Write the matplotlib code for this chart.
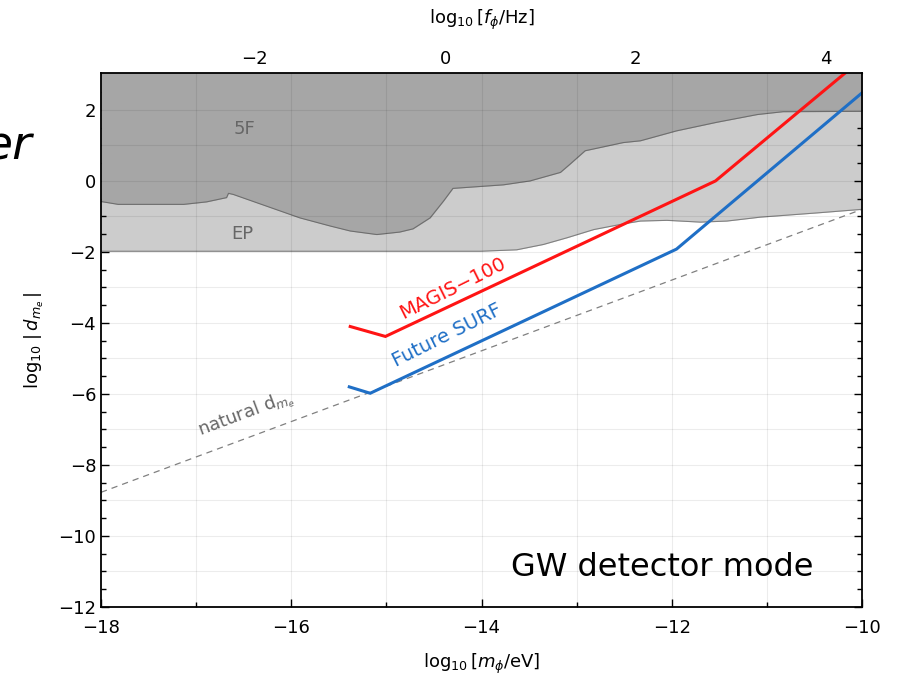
import numpy as np
import matplotlib
matplotlib.use("Agg")
import matplotlib.pyplot as plt
from matplotlib.ticker import MultipleLocator, FixedLocator

plt.rcParams['font.family'] = ['DejaVu Sans']
plt.rcParams['mathtext.fontset'] = 'dejavusans'

# ---- data ----
dark_x = [-18, -17.82, -17.13, -16.89, -16.68, -16.66, -16.61, -15.91, -15.59, -15.38,
          -15.10, -14.86, -14.72, -14.54, -14.40, -14.30, -13.77, -13.49, -13.17, -13.07,
          -12.91, -12.51, -12.33, -11.95, -11.53, -11.10, -10.83, -10.0]
dark_y = [-0.58, -0.66, -0.66, -0.59, -0.47, -0.35, -0.38, -1.04, -1.27, -1.41,
          -1.51, -1.44, -1.35, -1.04, -0.57, -0.21, -0.11, 0.0, 0.24, 0.47,
          0.85, 1.08, 1.13, 1.41, 1.65, 1.87, 1.95, 1.96]

light_x = [-18, -14.33, -14.01, -13.63, -13.35, -13.10, -12.82, -12.51, -12.33, -12.05,
           -11.70, -11.42, -11.07, -10.47, -10.0]
light_y = [-1.98, -1.98, -1.98, -1.94, -1.79, -1.60, -1.37, -1.21, -1.13, -1.11,
           -1.16, -1.13, -1.02, -0.90, -0.80]

magis_x = [-15.38, -15.01, -11.54, -10.15]
magis_y = [-4.10, -4.38, 0.0, 3.10]

surf_x = [-15.39, -15.17, -11.95, -10.0]
surf_y = [-5.80, -5.98, -1.92, 2.48]

natural_x = [-18, -10]
natural_y = [-8.77, -0.80]

freq_ticks = [-2, 0, 2, 4]
freq_minor = [-3, -1, 1, 3]

xlim = (-18, -10)
ylim = (-12, 3.04)
f_offset = 14.3834  # log10(eV/h in Hz)

# ---- figure ----
fig = plt.figure(figsize=(8.99, 6.8), dpi=100)
ax = fig.add_axes([101/899, 1-607/680, (862-101)/899, (607-73)/680])

ax.set_xlim(*xlim)
ax.set_ylim(*ylim)

top = ylim[1] + 1
ax.fill_between(light_x, light_y, top, color='#cccccc', lw=0, zorder=1)
ax.plot(light_x, light_y, color='#808080', lw=0.8, zorder=2)
ax.fill_between(dark_x, dark_y, top, color='#a6a6a6', lw=0, zorder=3)
ax.plot(dark_x, dark_y, color='#6e6e6e', lw=0.8, zorder=4)

# grid (faint, visible over the shaded regions too)
for gx in range(-17, -10):
    ax.axvline(gx, color='black', alpha=0.075, lw=0.8, zorder=4.5)
for gy in range(-11, 3):
    ax.axhline(gy, color='black', alpha=0.075, lw=0.8, zorder=4.5)

ax.plot(natural_x, natural_y, color='#808080', lw=0.9, ls=(0, (5, 4)), zorder=5)
ax.plot(magis_x, magis_y, color='#ff1414', lw=2.2, zorder=6, solid_joinstyle='miter')
ax.plot(surf_x, surf_y, color='#1f6fc6', lw=2.2, zorder=6, solid_joinstyle='miter')

# labels in plot
ax.text(-16.49, 1.47, '5F', color='#666666', fontsize=13, ha='center', va='center', zorder=7)
ax.text(-16.51, -1.50, 'EP', color='#666666', fontsize=13, ha='center', va='center', zorder=7)
ax.text(-14.30, -3.02, 'MAGIS\u2212100', color='#ff1414', fontsize=14, rotation=26.5,
        ha='center', va='center', rotation_mode='anchor', zorder=7)
ax.text(-14.36, -4.36, 'Future SURF', color='#1f6fc6', fontsize=14, rotation=26.5,
        ha='center', va='center', rotation_mode='anchor', zorder=7)
ax.text(-16.47, -6.58, r'natural d$_{m_e}$', color='#666666', fontsize=13, rotation=20.5,
        ha='center', va='center', rotation_mode='anchor', zorder=7)
ax.text(-12.10, -10.9, 'GW detector mode', color='black', fontsize=23,
        ha='center', va='center', zorder=7)

# ticks
ax.xaxis.set_major_locator(MultipleLocator(2))
ax.xaxis.set_minor_locator(MultipleLocator(1))
ax.yaxis.set_major_locator(MultipleLocator(2))
ax.yaxis.set_minor_locator(MultipleLocator(0.5))
ax.tick_params(which='both', direction='in', top=False, right=True, labelsize=13,
               width=1.0, colors='black')
ax.tick_params(which='major', length=6)
ax.tick_params(which='minor', length=3.5)
ax.tick_params(axis='x', which='major', pad=8.5)
for s in ax.spines.values():
    s.set_linewidth(1.3)
    s.set_zorder(10)

sec = ax.secondary_xaxis('top', functions=(lambda m: m + f_offset, lambda f: f - f_offset))
sec.xaxis.set_major_locator(FixedLocator(freq_ticks))
sec.xaxis.set_minor_locator(FixedLocator(freq_minor))
sec.tick_params(which='both', direction='in', labelsize=13, width=1.0)
sec.tick_params(which='major', length=6)
sec.tick_params(which='minor', length=3.5)
sec.set_xlabel(r'$\log_{10}[f_\phi/\mathrm{Hz}]$', fontsize=13, labelpad=19)

ax.set_xlabel(r'$\log_{10}[m_\phi/\mathrm{eV}]$', fontsize=13, labelpad=11)
ax.set_ylabel(r'$\log_{10}\,|\,d_{m_e}\,|$', fontsize=13, labelpad=9)

fig.text(32/899, 1-160/680, 'er', fontsize=34, style='italic', ha='right', va='baseline')

fig.savefig('out.png', dpi=100)
